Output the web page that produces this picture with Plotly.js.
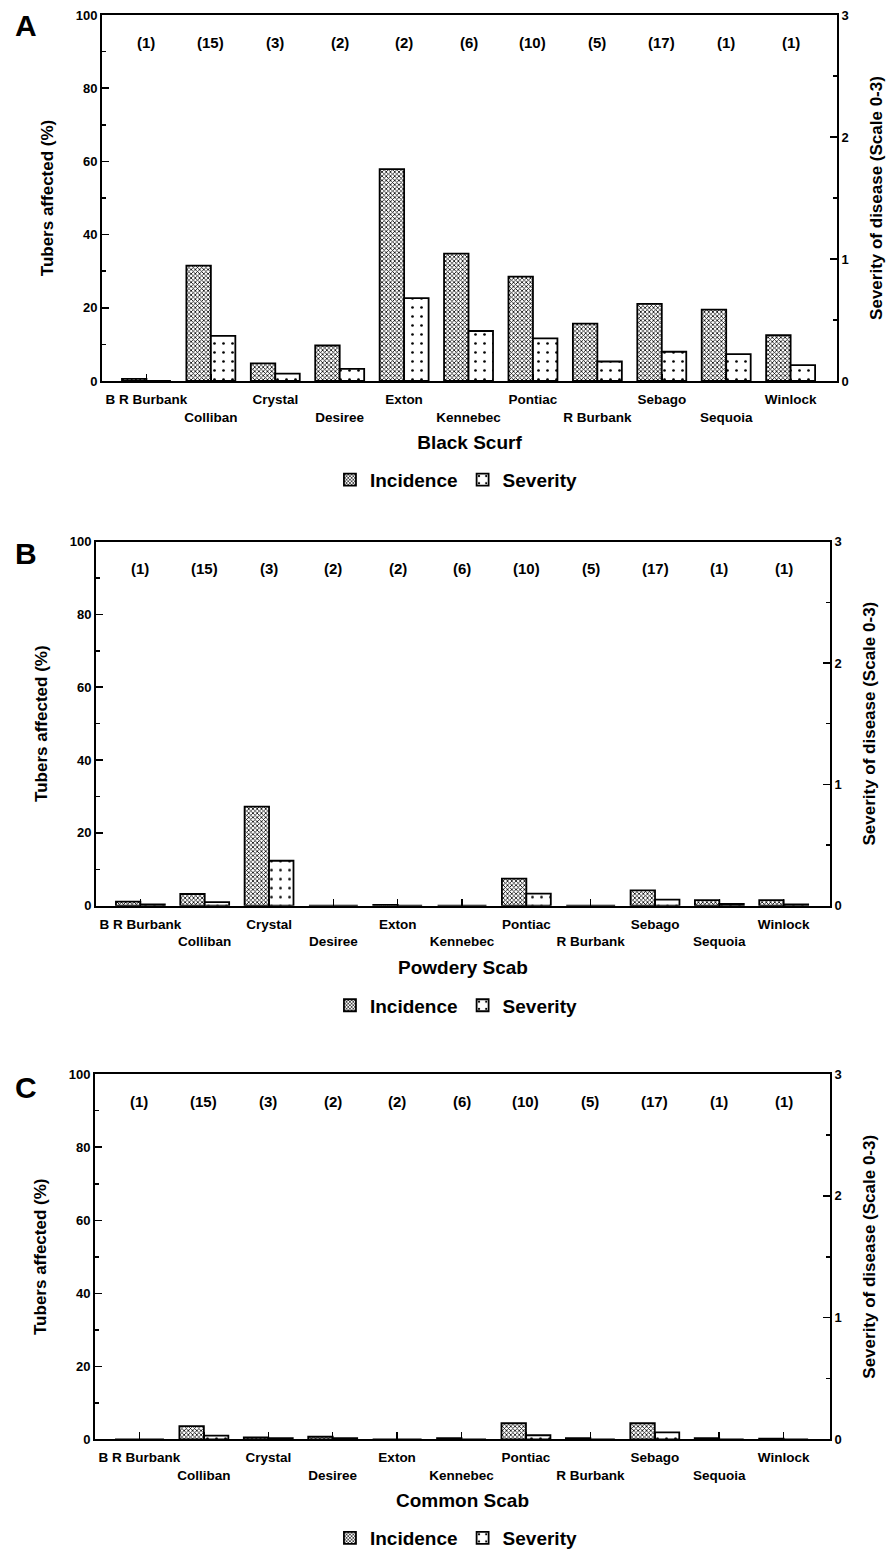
<!DOCTYPE html>
<html><head><meta charset="utf-8">
<script src="https://cdn.plot.ly/plotly-3.0.1.min.js"></script>
<style>html,body{margin:0;padding:0;background:#fff}</style>
</head><body><div id="chart" style="width:895px;height:1557px"></div>
<script>
// ---- data ----
const cultivars = ["B R Burbank","Colliban","Crystal","Desiree","Exton","Kennebec","Pontiac","R Burbank","Sebago","Sequoia","Winlock"];
const sampleCounts = [1,15,3,2,2,6,10,5,17,1,1];
const panelLetters = ["A","B","C"];
const diseaseNames = ["Black Scurf","Powdery Scab","Common Scab"];
const seriesNames = ["Incidence","Severity"];
// incidence: % tubers affected (left axis); severity: scale 0-3 (right axis)
const blackScurfIncidence = [0.6,31.5,4.8,9.7,57.9,34.8,28.5,15.7,21.1,19.5,12.5];
const blackScurfSeverity  = [0,0.37,0.06,0.10,0.68,0.41,0.35,0.16,0.24,0.22,0.13];
const powderyScabIncidence = [1.1,3.2,27.2,0,0.2,0,7.4,0,4.2,1.5,1.5];
const powderyScabSeverity  = [0.01,0.03,0.37,0,0,0,0.10,0,0.05,0.015,0.01];
const commonScabIncidence = [0,3.6,0.5,0.7,0,0.3,4.4,0.3,4.4,0.3,0.2];
const commonScabSeverity  = [0,0.03,0.01,0.01,0,0,0.033,0,0.057,0,0];
const leftTickVals = [0,20,40,60,80,100];
const rightTickVals = [0,1,2,3];

// ---- layout helpers ----
const FONT = "Liberation Sans, Arial, Helvetica, sans-serif";
const W = 895, H = 1557;
const panels = [
  {inc: blackScurfIncidence, sev: blackScurfSeverity, px:[102,837], py:[15,382], legendY:481, letterY:26},
  {inc: powderyScabIncidence, sev: powderyScabSeverity, px:[96,830], py:[543,908], legendY:1008, letterY:555},
  {inc: commonScabIncidence, sev: commonScabSeverity, px:[95,830], py:[1077,1443], legendY:1542, letterY:1090}
];
const staggered = cultivars.map((c,i)=> i%2 ? "<br>"+c : c);

const traces = [];
const layout = {
  width: W, height: H,
  margin: {l:0,r:0,t:0,b:0},
  paper_bgcolor: "#fff", plot_bgcolor: "rgba(0,0,0,0)",
  font: {family: FONT, color: "#000", size: 13},
  barmode: "group", bargap: 0.24, bargroupgap: 0,
  annotations: [],
  showlegend: true
};

panels.forEach((p, k) => {
  const xa = k===0 ? "x" : "x"+(k+1);
  const yl = k===0 ? "y" : "y"+(2*k+1);
  const yr = "y"+(2*k+2);
  const xKey = k===0 ? "xaxis" : "xaxis"+(k+1);
  const ylKey = k===0 ? "yaxis" : "yaxis"+(2*k+1);
  const yrKey = "yaxis"+(2*k+2);
  const legKey = k===0 ? "legend" : "legend"+(k+1);
  const xd = [p.px[0]/W, p.px[1]/W];
  const yd = [1-p.py[1]/H, 1-p.py[0]/H];

  traces.push({
    type:"bar", name: seriesNames[0], x: cultivars, y: p.inc,
    xaxis: xa, yaxis: yl, offsetgroup: "1", legend: legKey,
    marker: {color:"#fff", line:{color:"#000", width:1.8},
      pattern:{shape:"x", fgcolor:"#000", bgcolor:"#fff", size:3, solidity:0.45}},
    hoverinfo:"x+y"
  });
  traces.push({
    type:"bar", name: seriesNames[1], x: cultivars, y: p.sev,
    xaxis: xa, yaxis: yr, offsetgroup: "2", legend: legKey,
    marker: {color:"#fff", line:{color:"#000", width:1.8},
      pattern:{shape:".", fgcolor:"#000", bgcolor:"#fff", size:9, solidity:0.07}},
    hoverinfo:"x+y"
  });

  layout[xKey] = {
    domain: xd, anchor: yl, type:"category",
    range: [-0.69, 10.72],
    tickmode:"array", tickvals: cultivars, ticktext: staggered,
    ticks:"inside", ticklen:7, tickwidth:1.5, tickcolor:"#000",
    tickangle: 0, ticklabelstandoff: 5,
    tickfont:{family:FONT, size:13.5, weight:"bold"},
    showline:true, linecolor:"#000", linewidth:2, mirror:true,
    showgrid:false, zeroline:false, automargin:false,
    title:{text: diseaseNames[k], font:{family:FONT, size:19, weight:"bold"}, standoff: 12}
  };
  layout[ylKey] = {
    domain: yd, anchor: xa, range:[0,100],
    tickmode:"array", tickvals: leftTickVals,
    ticks:"inside", ticklen:7, tickwidth:1.5, tickcolor:"#000",
    minor:{dtick:10, tick0:0, ticks:"inside", ticklen:4, tickcolor:"#000", showgrid:false},
    tickfont:{family:FONT, size:13, weight:"bold"},
    showline:true, linecolor:"#000", linewidth:2,
    showgrid:false, zeroline:false, automargin:false,
    title:{text:"Tubers affected (%)", font:{family:FONT, size:17, weight:"bold"}, standoff: 18}
  };
  layout[yrKey] = {
    overlaying: yl, side:"right", anchor: xa, range:[0,3],
    tickmode:"array", tickvals: rightTickVals,
    ticks:"inside", ticklen:7, tickwidth:1.5, tickcolor:"#000",
    minor:{dtick:0.5, tick0:0, ticks:"inside", ticklen:4, tickcolor:"#000", showgrid:false},
    tickfont:{family:FONT, size:13, weight:"bold"},
    showline:true, linecolor:"#000", linewidth:2,
    showgrid:false, zeroline:false, automargin:false,
    title:{text:"Severity of disease (Scale 0-3)", font:{family:FONT, size:17, weight:"bold"}, standoff: 22}
  };
  layout[legKey] = {
    orientation:"h", x: 0.51, xanchor:"center",
    y: 1-p.legendY/H, yanchor:"middle",
    font:{family:FONT, size:19, weight:"bold"},
    itemwidth:30, tracegroupgap:0, bgcolor:"rgba(0,0,0,0)"
  };

  // sample counts above each cultivar
  cultivars.forEach((c,i)=>{
    layout.annotations.push({
      xref: xa, yref: yl, x: c, y: 92.5, text: "("+sampleCounts[i]+")",
      showarrow:false, font:{family:FONT, size:15, weight:"bold"}
    });
  });
  // panel letter
  layout.annotations.push({
    xref:"paper", yref:"paper", x: 26/W, y: 1-p.letterY/H,
    xanchor:"center", yanchor:"middle", text: panelLetters[k],
    showarrow:false, font:{family:FONT, size:30, weight:"bold"}
  });
});

Plotly.newPlot("chart", traces, layout, {staticPlot:true, displayModeBar:false});
</script>
</body></html>
